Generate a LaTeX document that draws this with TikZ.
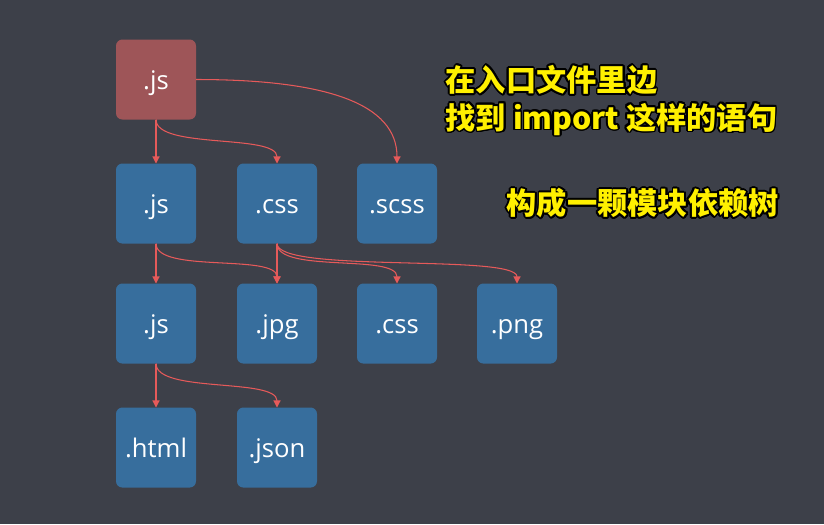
\documentclass[tikz,border=0pt]{standalone}
\usepackage{fontspec}
\setmainfont{Open Sans}
\newfontfamily\cjk{Noto Sans CJK SC}
\usepackage{contour}
\contourlength{0.5pt}
\usepackage{tikz}
\usetikzlibrary{arrows.meta}
\usetikzlibrary{positioning}
\definecolor{fundo}{HTML}{3D4049}
\definecolor{azul}{HTML}{376E9D}
\definecolor{vinho}{HTML}{9E5558}
\definecolor{coral}{HTML}{E65A5A}
\definecolor{amarelo}{HTML}{FFF000}
\tikzset{
  modulo/.style={fill=azul, rounded corners=1.8pt, minimum width=0.8cm, minimum height=0.8cm, inner sep=0pt, outer sep=0pt, text height=0.75em, text depth=0.2em, text=white, font=\fontsize{7.3}{8}\selectfont},
  entrada/.style={modulo, fill=vinho},
  seta/.style={-{Triangle[length=2pt,width=2pt]}, draw=coral, line width=0.3pt},
  nota/.style={anchor=west, inner sep=0pt, text=amarelo, font=\cjk\bfseries\fontsize{8.6}{10}\selectfont},
}
\begin{document}
\begin{tikzpicture}[node distance=0.42cm]
  \fill[fundo] (0,0) rectangle (8.24,5.24);
  \useasboundingbox (0,0) rectangle (8.24,5.24);
  \node[entrada] (e) at (1.56,4.445) {.js};
  \node[modulo, below=0.44cm of e] (js1) {.js};
  \node[modulo, right=0.41cm of js1] (css1) {.css};
  \node[modulo, right=0.40cm of css1] (scss) {.scss};
  \node[modulo, below=0.40cm of js1] (js2) {.js};
  \node[modulo, right=0.41cm of js2] (jpg) {.jpg};
  \node[modulo, right=0.40cm of jpg] (css2) {.css};
  \node[modulo, right=0.40cm of css2] (png) {.png};
  \node[modulo, below=0.44cm of js2] (html) {.html};
  \node[modulo, right=0.41cm of html] (json) {.json};
  % dependencias
  \foreach \a/\b in {e/js1, js1/js2, css1/jpg, js2/html}
    \draw[seta] (\a.south) -- (\b.north);
  \foreach \a/\b in {e/css1, js1/jpg, css1/css2, css1/png, js2/json}
    \draw[seta] (\a.south) .. controls +(0,-0.3) and +(0,0.3) .. (\b.north);
  \draw[seta] (e.east) .. controls +(1.3,0) and +(0,0.6) .. (scss.north);
  % notas
  \node[nota] (n1) at (4.45,4.43) {\contour{black}{在入口文件里边}};
  \node[nota] (n2) at (4.45,4.04) {\contour{black}{找到 import 这样的语句}};
  \node[nota] (n3) at (5.06,3.20) {\contour{black}{构成一颗模块依赖树}};
\end{tikzpicture}
\end{document}
